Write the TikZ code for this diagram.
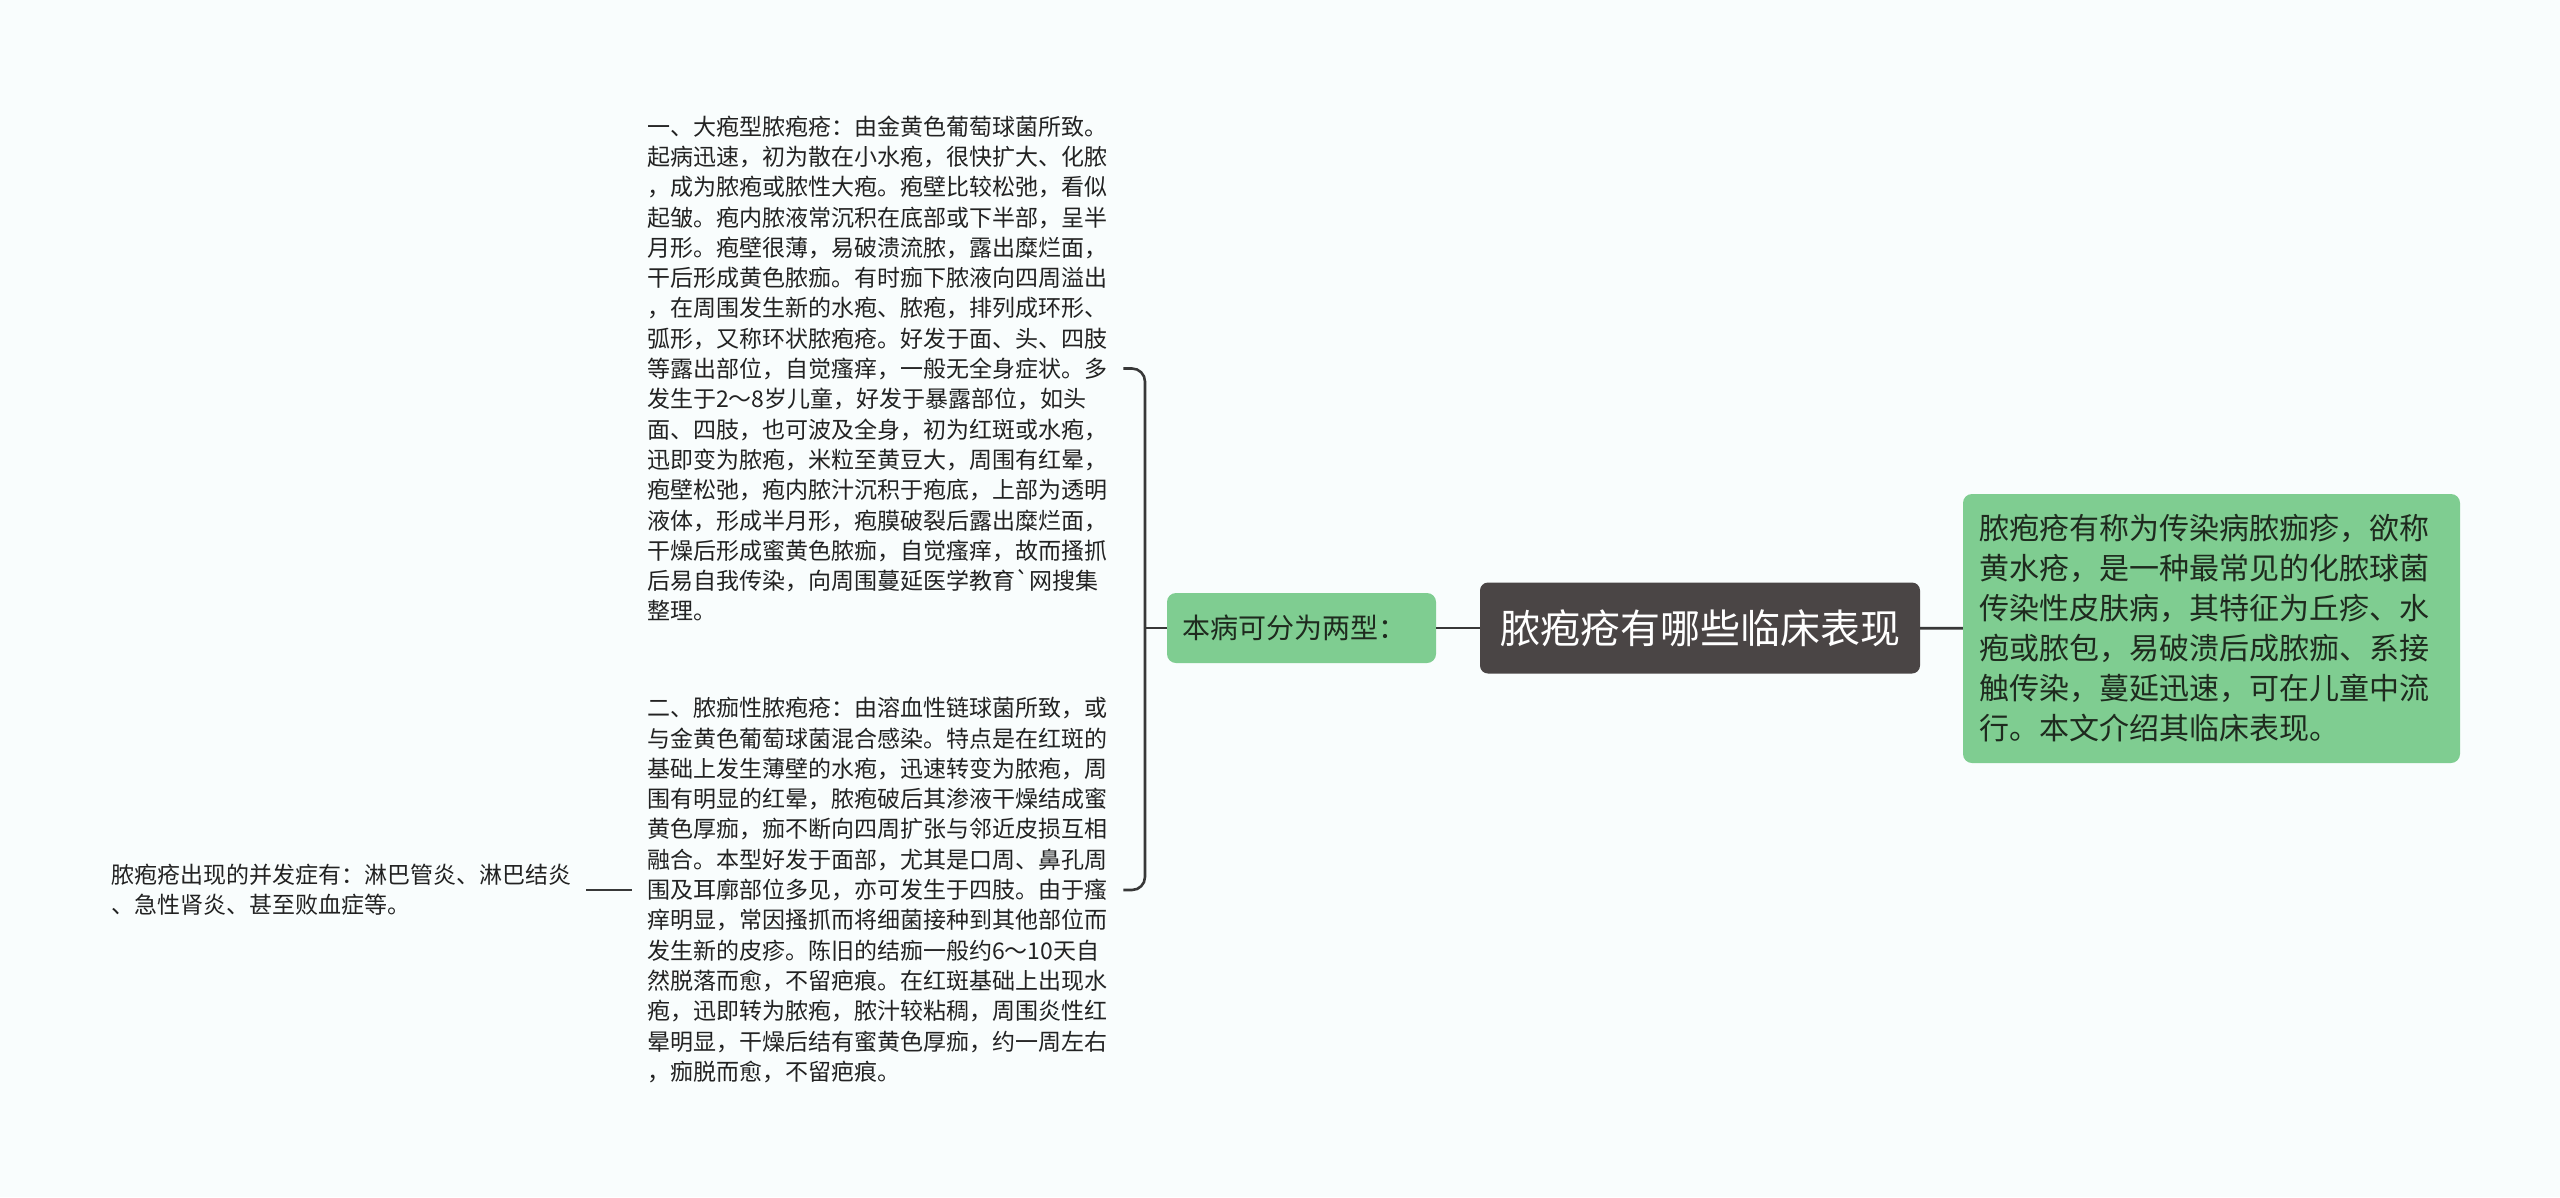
\documentclass[tikz,border=0pt]{standalone}
\usepackage{fontspec}
\setmainfont{Noto Sans CJK SC}
\newfontfamily\rawfont{Noto Sans CJK SC}
\usetikzlibrary{calc}
\definecolor{bgc}{HTML}{F9FDFD}
\definecolor{rootfill}{HTML}{4A4545}
\definecolor{leaf}{HTML}{7FCD91}
\definecolor{edgec}{HTML}{383838}
\definecolor{txtc}{HTML}{222222}
\definecolor{leaftxt}{HTML}{1E2A1E}
\begin{document}
\begin{tikzpicture}[x=1pt,y=-1pt,
  conn/.style={draw=edgec,line width=2.6pt},
  rootbox/.style={rectangle,rounded corners=8pt,fill=rootfill,text=white,
    minimum width=440pt,minimum height=91pt,inner sep=0pt,
    font=\fontsize{40}{48}\selectfont},
  greenbox/.style={rectangle,rounded corners=9pt,fill=leaf,text=leaftxt},
  plain/.style={inner sep=0pt,align=left,text=txtc,
    font=\fontsize{23}{30.3}\selectfont}]
\useasboundingbox[fill=bgc] (0,0) rectangle (2560,1197);

% nodes
\node[rootbox] (root) at (1700,628) {脓疱疮有哪些临床表现};
\node[greenbox,text width=465pt,inner xsep=16pt,inner ysep=0pt,
  minimum height=269pt,align=left,font=\fontsize{30}{40}\selectfont]
  (desc) at (2211.5,628.5) {脓疱疮有称为传染病脓痂疹，欲称\\黄水疮，是一种最常见的化脓球菌\\传染性皮肤病，其特征为丘疹、水\\疱或脓包，易破溃后成脓痂、系接\\触传染，蔓延迅速，可在儿童中流\\行。本文介绍其临床表现。};
\node[greenbox,text width=239pt,inner xsep=15pt,inner ysep=0pt,
  minimum height=70pt,align=left,font=\fontsize{28}{34}\selectfont]
  (mid) at (1301.5,628) {本病可分为两型：};

\node[plain,anchor=west] (b1) at (647,368.5) {一、大疱型脓疱疮：由金黄色葡萄球菌所致。\\起病迅速，初为散在小水疱，很快扩大、化脓\\，成为脓疱或脓性大疱。疱壁比较松弛，看似\\起皱。疱内脓液常沉积在底部或下半部，呈半\\月形。疱壁很薄，易破溃流脓，露出糜烂面，\\干后形成黄色脓痂。有时痂下脓液向四周溢出\\，在周围发生新的水疱、脓疱，排列成环形、\\弧形，又称环状脓疱疮。好发于面、头、四肢\\等露出部位，自觉瘙痒，一般无全身症状。多\\发生于2～8岁儿童，好发于暴露部位，如头\\面、四肢，也可波及全身，初为红斑或水疱，\\迅即变为脓疱，米粒至黄豆大，周围有红晕，\\疱壁松弛，疱内脓汁沉积于疱底，上部为透明\\液体，形成半月形，疱膜破裂后露出糜烂面，\\干燥后形成蜜黄色脓痂，自觉瘙痒，故而搔抓\\后易自我传染，向周围蔓延医学教育{\rawfont`}网搜集\\整理。};
\node[plain,anchor=west] (b2) at (647,890) {二、脓痂性脓疱疮：由溶血性链球菌所致，或\\与金黄色葡萄球菌混合感染。特点是在红斑的\\基础上发生薄壁的水疱，迅速转变为脓疱，周\\围有明显的红晕，脓疱破后其渗液干燥结成蜜\\黄色厚痂，痂不断向四周扩张与邻近皮损互相\\融合。本型好发于面部，尤其是口周、鼻孔周\\围及耳廓部位多见，亦可发生于四肢。由于瘙\\痒明显，常因搔抓而将细菌接种到其他部位而\\发生新的皮疹。陈旧的结痂一般约6～10天自\\然脱落而愈，不留疤痕。在红斑基础上出现水\\疱，迅即转为脓疱，脓汁较粘稠，周围炎性红\\晕明显，干燥后结有蜜黄色厚痂，约一周左右\\，痂脱而愈，不留疤痕。};
\node[plain,anchor=west] (b3) at (111,890) {脓疱疮出现的并发症有：淋巴管炎、淋巴结炎\\、急性肾炎、甚至败血症等。};

% connectors
\draw[conn] (root) -- (desc);
\draw[conn] (root) -- (mid);
\coordinate (bk) at (1145,628);
\coordinate (t1) at ($(b1.east)+(16,0)$);
\coordinate (t2) at ($(b2.east)+(16,0)$);
\draw[conn] (mid.west) -- (bk);
\draw[conn,rounded corners=13pt] (t1) -- (t1 -| bk) -- (t2 -| bk) -- (t2);
\draw[conn,shorten <=15pt,shorten >=15pt] (b3.east) -- (b2.west);
\end{tikzpicture}
\end{document}
